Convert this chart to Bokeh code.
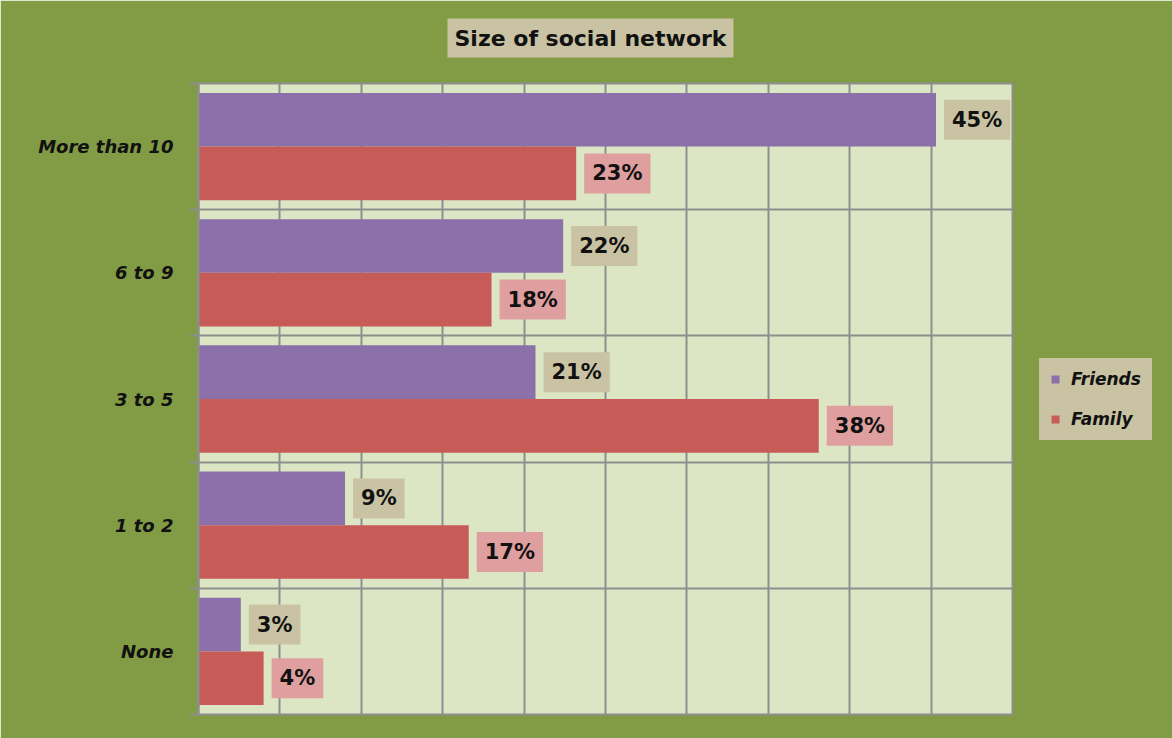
from bokeh.plotting import figure
from bokeh.models import (Range1d, FixedTicker, Legend, LegendItem, ColumnDataSource,
                          LinearAxis, Title)
from bokeh.core.properties import value
from bokeh.transform import dodge
from bokeh.embed import file_html
from bokeh.resources import INLINE

# ---- data (top to bottom as shown) ----
categories = ["More than 10", "6 to 9", "3 to 5", "1 to 2", "None"]
friends = [45.3, 22.4, 20.7, 9.0, 2.6]
family = [23.2, 18.0, 38.1, 16.6, 4.0]
series_names = ["Friends", "Family"]
title_text = "Size of social network"
x_max = 50
x_step = 5

# ---- styling ----
OLIVE = "#829B45"
PLOT_BG = "#DCE6C5"
PURPLE = "#8B70AA"
RED = "#C65B57"
TAN = "#C9C3A3"
PINK = "#DF9F9F"
GRID = "#8E8E8E"
FONT = "DejaVu Sans"

n = len(categories)
pos = [n - 0.5 - i for i in range(n)]
bounds = list(range(n + 1))

src = ColumnDataSource(dict(
    pos=pos,
    cat=categories,
    friends=friends,
    family=family,
    friends_lbl=[f"{round(v)}%" for v in friends],
    family_lbl=[f"{round(v)}%" for v in family],
))

p = figure(frame_width=814, frame_height=631, output_backend="svg", toolbar_location=None,
           x_range=Range1d(0, x_max), y_range=Range1d(0, n),
           min_border_left=198, min_border_right=160, min_border_top=83, min_border_bottom=24)
p.title_location = None

p.background_fill_color = PLOT_BG
p.border_fill_color = OLIVE
p.outline_line_color = GRID
p.outline_line_width = 2

bar_h = 0.425
half = bar_h / 2
r1 = p.hbar(y=dodge("pos", half, range=p.y_range), left=0, right="friends", height=bar_h,
            source=src, fill_color=PURPLE, line_color=None)
r2 = p.hbar(y=dodge("pos", -half, range=p.y_range), left=0, right="family", height=bar_h,
            source=src, fill_color=RED, line_color=None)

common = dict(x_offset=8, text_align="left", text_baseline="middle",
              text_font=value(FONT), text_font_style="bold", text_font_size="21px",
              text_color="#111111", padding=8, border_line_color=None)
p.text(x="friends", y=dodge("pos", half, range=p.y_range), text="friends_lbl", source=src,
       background_fill_color=TAN, **common)
p.text(x="family", y=dodge("pos", -half, range=p.y_range), text="family_lbl", source=src,
       background_fill_color=PINK, **common)

# axes
p.xaxis.visible = False
ax = p.yaxis[0]
ax.ticker = FixedTicker(ticks=pos, minor_ticks=bounds)
ax.major_label_overrides = {float(k): c for k, c in zip(pos, categories)}
ax.major_tick_line_color = None
ax.major_tick_out = 0
ax.major_tick_in = 0
ax.minor_tick_line_color = GRID
ax.minor_tick_line_width = 2
ax.minor_tick_out = 8
ax.minor_tick_in = 0
ax.axis_line_color = GRID
ax.axis_line_width = 2
ax.major_label_standoff = 17
ax.major_label_text_font = FONT
ax.major_label_text_font_style = "bold italic"
ax.major_label_text_font_size = "18px"
ax.major_label_text_color = "#111111"

# invisible spacer axis between title and frame
spacer = LinearAxis(ticker=FixedTicker(ticks=[0]), axis_line_color=None,
                    major_tick_line_color=None, minor_tick_line_color=None,
                    major_tick_out=16, major_tick_in=0, minor_tick_out=0, minor_tick_in=0,
                    major_label_standoff=0, major_label_text_color=None,
                    major_label_text_font_size="1px")
p.add_layout(spacer, "above")

# grid
p.xgrid.ticker = FixedTicker(ticks=list(range(0, x_max + 1, x_step)))
p.xgrid.grid_line_color = GRID
p.xgrid.grid_line_width = 2
p.ygrid.ticker = FixedTicker(ticks=bounds)
p.ygrid.grid_line_color = GRID
p.ygrid.grid_line_width = 2

# title (outside the spacer)
title = Title(text=title_text, align="left", offset=249, text_font=FONT,
              text_font_style="bold", text_font_size="22px", text_color="#111111",
              background_fill_color=TAN, padding=7, standoff=20)
p.add_layout(title, "above")

# legend
legend = Legend(items=[LegendItem(label=series_names[0], renderers=[r1]),
                       LegendItem(label=series_names[1], renderers=[r2])],
                location="center_left", margin=27, padding=0, spacing=20,
                glyph_width=10, glyph_height=10, label_height=20, label_standoff=11,
                background_fill_color=TAN, background_fill_alpha=1.0,
                border_line_color=TAN, border_line_width=11,
                label_text_font=FONT, label_text_font_style="bold italic",
                label_text_font_size="17px", label_text_color="#111111")
p.add_layout(legend, "right")

open("out.html", "w").write(file_html(p, INLINE))
